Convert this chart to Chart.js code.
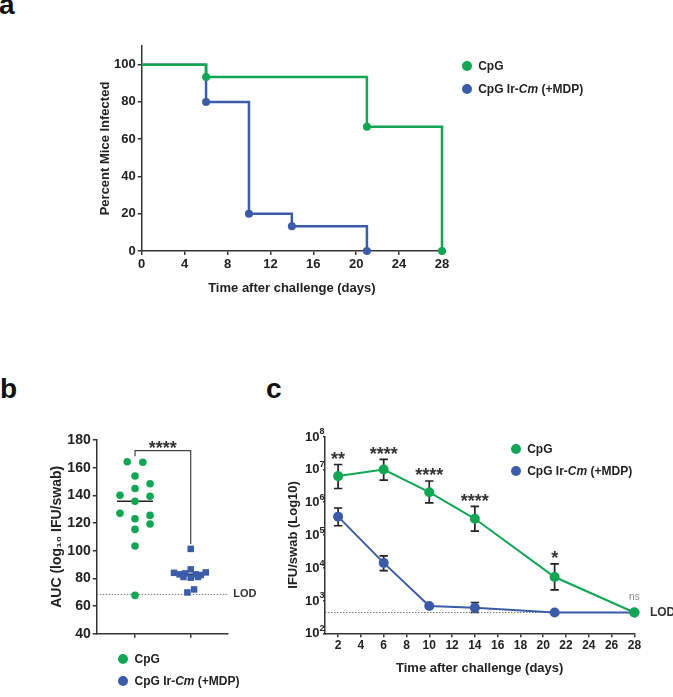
<!DOCTYPE html>
<html><head><meta charset="utf-8">
<script src="https://cdn.jsdelivr.net/npm/chart.js@4/dist/chart.umd.min.js"></script>
<style>
body{margin:0;background:#fff;}
#wrap{position:relative;width:673px;height:697px;overflow:hidden;font-family:"Liberation Sans",Arial,Helvetica,sans-serif;font-weight:bold;color:#222;background:#fff}
canvas{position:absolute}
.plab{position:absolute;font-size:28px;line-height:28px;font-weight:bold;color:#111}
.mk{position:absolute;width:10px;height:10px;border-radius:50%}
.lt{position:absolute;font-size:12px;line-height:14px;white-space:nowrap;color:#222;font-weight:bold}
</style></head>
<body><div id="wrap">
<div class="plab" style="left:-1px;top:-9px">a</div>
<div class="plab" style="left:0px;top:375px">b</div>
<div class="plab" style="left:266px;top:375px">c</div>
<canvas id="chartA" width="673" height="320" style="left:0;top:0"></canvas>
<canvas id="chartB" width="260" height="357" style="left:0;top:340px"></canvas>
<canvas id="chartC" width="423" height="357" style="left:250px;top:340px"></canvas>
</div>
<script>
// ---------- DATA ----------
const seriesNames = ['CpG', 'CpG Ir-<i>Cm</i> (+MDP)'];

// Panel a: Kaplan-Meier (percent mice infected)
const cpgSurvDays = [0, 6, 21, 28];
const cpgSurvPct  = [100, 93.3, 66.7, 0];
const mdpSurvDays = [0, 6, 10, 14, 21];
const mdpSurvPct  = [100, 80, 20, 13.3, 0];
const survXTicks  = [0, 4, 8, 12, 16, 20, 24, 28];
const survYTicks  = [0, 20, 40, 60, 80, 100];

// Panel b: AUC per mouse (with horizontal jitter, in category units)
const aucCpg       = [164.3, 163.9, 154.0, 148.4, 145.0, 140.0, 139.3, 135.7, 127.0, 125.5, 123.1, 119.3, 115.4, 103.4, 67.7];
const aucCpgJitter = [-0.14, 0.14, 0, 0.27, 0, -0.27, 0.27, 0, -0.27, 0.27, 0, 0.27, 0, 0, 0];
const aucMdp       = [101.3, 86.5, 84.0, 82.9, 83.6, 82.9, 82.4, 84.3, 81.0, 80.5, 81.0, 72.0, 69.8];
const aucMdpJitter = [0, 0, -0.30, -0.20, -0.10, 0.09, 0.18, 0.27, -0.13, 0, 0.13, 0.06, -0.06];
const aucYTicks    = [40, 60, 80, 100, 120, 140, 160, 180];
const aucLOD       = 68.4;
const aucSignif    = '****';

// Panel c: IFU/swab over time (mean with error bars)
const ifuDays   = [2, 6, 10, 14, 21, 28];
const cpgIFU    = [6.2e6, 9.8e6, 2.0e6, 3.1e5, 5.2e3, 430];
const cpgUpper  = [1.4e7, 2.0e7, 4.4e6, 7.4e5, 1.3e4, null];
const cpgLower  = [2.6e6, 4.7e6, 9.5e5, 1.3e5, 2.1e3, null];
const mdpIFU    = [3.6e5, 1.4e4, 680, 600, 430, 430];
const mdpUpper  = [6.6e5, 2.3e4, null, 870, null, null];
const mdpLower  = [1.9e5, 8.1e3, null, 430, null, null];
const ifuSignif = ['**', '****', '****', '****', '*', 'ns'];
const ifuLOD    = 430;
const dayTicks  = [2, 4, 6, 8, 10, 12, 14, 16, 18, 20, 22, 24, 26, 28];
const ifuYTicks = [1e2, 1e3, 1e4, 1e5, 1e6, 1e7, 1e8];

// ---------- STYLE ----------
const GREEN = '#10a653', BLUE = '#3b5ca9', AXIS = '#333', TXT = '#222';
const FONT = '"Liberation Sans", Arial, Helvetica, sans-serif';
Chart.defaults.font.family = FONT;
Chart.defaults.color = TXT;
Chart.defaults.animation = false;

const fixY = w => s => { s.width = w; s.paddingTop = 0; s.paddingBottom = 0; };
const fixX = h => s => { s.height = h; s.paddingLeft = 0; s.paddingRight = 0; };
const setTicks = arr => s => { s.ticks = arr.map(v => ({value: v})); };
const axisGrid = {drawOnChartArea: false, tickLength: 4, color: AXIS, lineWidth: 1.5};
const axisBorder = {color: AXIS, width: 1.5};
const bold = size => ({size, weight: 'bold'});
const noPlug = {legend: {display: false}, tooltip: {enabled: false}};

// ---------- LEGENDS ----------
function legend(x, y0, dy) {
  const wrap = document.getElementById('wrap');
  [GREEN, BLUE].forEach((c, i) => {
    const cy = y0 + i * dy;
    const m = document.createElement('div');
    m.className = 'mk'; m.style.background = c;
    m.style.left = (x - 5) + 'px'; m.style.top = (cy - 5) + 'px';
    wrap.appendChild(m);
    const t = document.createElement('div');
    t.className = 'lt'; t.innerHTML = seriesNames[i];
    t.style.left = (x + 11.5) + 'px'; t.style.top = (cy - 6.9) + 'px';
    wrap.appendChild(t);
  });
}
legend(466.7, 66, 22.7);
legend(123, 659, 21.7);
legend(515.7, 449, 22);

// ---------- PANEL A ----------
const pts = (xs, ys) => xs.map((x, i) => ({x, y: ys[i]}));
new Chart(document.getElementById('chartA'), {
  type: 'line',
  data: {datasets: [
    {data: pts(cpgSurvDays, cpgSurvPct), borderColor: GREEN, backgroundColor: GREEN, stepped: true,
     borderWidth: 2.5, pointRadius: c => c.dataIndex === 0 ? 0 : 4, pointBorderWidth: 0, clip: false},
    {data: pts(mdpSurvDays, mdpSurvPct), borderColor: BLUE, backgroundColor: BLUE, stepped: true,
     borderWidth: 2.5, pointRadius: c => c.dataIndex === 0 ? 0 : 4, pointBorderWidth: 0, clip: false}
  ]},
  options: {
    responsive: false, animation: false,
    layout: {padding: {left: 93.5, top: 46, right: 231, bottom: 19.7}},
    plugins: noPlug,
    scales: {
      x: {type: 'linear', min: 0, max: 28, afterBuildTicks: setTicks(survXTicks),
          ticks: {font: bold(13), padding: 2, color: TXT, maxRotation: 0, autoSkip: false},
          grid: axisGrid, border: axisBorder,
          title: {display: true, text: 'Time after challenge (days)', font: bold(13), color: TXT},
          afterFit: fixX(49.3)},
      y: {type: 'linear', min: 0, max: 110, afterBuildTicks: setTicks(survYTicks),
          ticks: {font: bold(13), padding: 2, color: TXT},
          grid: axisGrid, border: axisBorder,
          title: {display: true, text: 'Percent Mice Infected', font: bold(13), color: TXT},
          afterFit: fixY(48.2)}
    }
  }
});

// ---------- PANEL B ----------
const median = a => { const s = [...a].sort((p, q) => p - q); const n = s.length;
  return n % 2 ? s[(n - 1) / 2] : (s[n / 2 - 1] + s[n / 2]) / 2; };
const bAnnot = {
  id: 'bAnnot',
  afterDatasetsDraw(chart) {
    const {ctx, scales: {x, y}, chartArea} = chart;
    const gTop = y.getPixelForValue(Math.max(...aucCpg));
    const bTop = y.getPixelForValue(Math.max(...aucMdp));
    const top = gTop - 11;
    ctx.save();
    ctx.strokeStyle = '#444'; ctx.lineWidth = 1.2;
    ctx.beginPath();
    ctx.moveTo(x.getPixelForValue(1), gTop - 5.5);
    ctx.lineTo(x.getPixelForValue(1), top);
    ctx.lineTo(x.getPixelForValue(2), top);
    ctx.lineTo(x.getPixelForValue(2), bTop - 5);
    ctx.stroke();
    ctx.fillStyle = '#333'; ctx.font = 'bold 18px ' + FONT;
    ctx.textAlign = 'center'; ctx.textBaseline = 'alphabetic';
    ctx.fillText(aucSignif, x.getPixelForValue(1.5), top + 3);
    ctx.font = 'bold 11px ' + FONT; ctx.textAlign = 'left'; ctx.textBaseline = 'middle';
    ctx.fillText('LOD', chartArea.right + 5.5, y.getPixelForValue(aucLOD));
    ctx.restore();
  }
};
const bXmin = 0.312, bXmax = 2.664;
new Chart(document.getElementById('chartB'), {
  type: 'scatter',
  data: {datasets: [
    {data: aucCpg.map((v, i) => ({x: 1 + aucCpgJitter[i], y: v})), backgroundColor: GREEN, borderWidth: 0,
     pointRadius: 3.8, pointStyle: 'circle', clip: false},
    {data: aucMdp.map((v, i) => ({x: 2 + aucMdpJitter[i], y: v})), backgroundColor: BLUE, borderWidth: 0,
     pointRadius: 4.6, pointStyle: 'rect', clip: false},
    {data: [{x: 0.677, y: median(aucCpg)}, {x: 1.323, y: median(aucCpg)}], showLine: true, borderColor: '#222',
     borderWidth: 1.5, pointRadius: 0},
    {data: [{x: 1.677, y: median(aucMdp)}, {x: 2.323, y: median(aucMdp)}], showLine: true, borderColor: '#222',
     borderWidth: 1.5, pointRadius: 0},
    {data: [{x: bXmin, y: aucLOD}, {x: bXmax, y: aucLOD}], showLine: true, borderColor: '#777',
     borderWidth: 1, borderDash: [1.5, 1.5], pointRadius: 0}
  ]},
  options: {
    responsive: false, animation: false,
    layout: {padding: {left: 44.3, top: 100, right: 32.3, bottom: 53.3}},
    plugins: noPlug,
    scales: {
      x: {type: 'linear', min: bXmin, max: bXmax, afterBuildTicks: setTicks([1, 2]),
          ticks: {callback: () => '', padding: 0},
          grid: axisGrid, border: axisBorder, afterFit: fixX(10)},
      y: {type: 'linear', min: 40, max: 180, afterBuildTicks: setTicks(aucYTicks),
          ticks: {font: bold(14), padding: 2, color: TXT},
          grid: axisGrid, border: axisBorder,
          title: {display: true, text: 'AUC (log\u2081\u2080 IFU/swab)', font: bold(14), color: TXT},
          afterFit: fixY(52.4)}
    }
  },
  plugins: [bAnnot]
});

// ---------- PANEL C ----------
const cAnnot = {
  id: 'cAnnot',
  beforeDatasetsDraw(chart) {
    const {ctx, scales: {x, y}} = chart;
    ctx.save(); ctx.strokeStyle = '#222'; ctx.lineWidth = 1.7;
    const bars = (up, lo) => ifuDays.forEach((d, i) => {
      if (up[i] == null) return;
      const px = x.getPixelForValue(d), yu = y.getPixelForValue(up[i]), yl = y.getPixelForValue(lo[i]);
      ctx.beginPath();
      ctx.moveTo(px, yu); ctx.lineTo(px, yl);
      ctx.moveTo(px - 4.2, yu); ctx.lineTo(px + 4.2, yu);
      ctx.moveTo(px - 4.2, yl); ctx.lineTo(px + 4.2, yl);
      ctx.stroke();
    });
    bars(cpgUpper, cpgLower); bars(mdpUpper, mdpLower);
    ctx.restore();
  },
  afterDatasetsDraw(chart) {
    const {ctx, scales: {x, y}, chartArea} = chart;
    ctx.save(); ctx.textAlign = 'center'; ctx.textBaseline = 'alphabetic';
    ifuDays.forEach((d, i) => {
      const px = x.getPixelForValue(d);
      if (ifuSignif[i] === 'ns') {
        ctx.font = '10px ' + FONT; ctx.fillStyle = '#888';
        ctx.fillText('ns', px, y.getPixelForValue(cpgIFU[i]) - 12.5);
      } else {
        ctx.font = 'bold 18px ' + FONT; ctx.fillStyle = '#333';
        ctx.fillText(ifuSignif[i], px, y.getPixelForValue(cpgUpper[i]) + 0.5);
      }
    });
    ctx.font = 'bold 12px ' + FONT; ctx.fillStyle = '#333'; ctx.textAlign = 'left'; ctx.textBaseline = 'middle';
    ctx.fillText('LOD', chartArea.right + 15.5, y.getPixelForValue(ifuLOD));
    // log tick labels: "10" with superscript exponent
    ctx.fillStyle = TXT; ctx.textBaseline = 'middle';
    y.ticks.forEach(t => {
      const py = y.getPixelForValue(t.value);
      const exp = String(Math.round(Math.log10(t.value)));
      ctx.font = 'bold 9px ' + FONT; ctx.textAlign = 'right';
      const ex = chartArea.left - 0.5;
      ctx.fillText(exp, ex, py - 4.5);
      const ew = ctx.measureText(exp).width;
      ctx.font = 'bold 13px ' + FONT;
      ctx.fillText('10', ex - ew, py + 0.5);
    });
    ctx.restore();
  }
};
const cXmin = 0.85, cXmax = 28;
new Chart(document.getElementById('chartC'), {
  type: 'line',
  data: {datasets: [
    {data: pts(ifuDays, cpgIFU), borderColor: GREEN, backgroundColor: GREEN, borderWidth: 2,
     pointRadius: 5, pointBorderWidth: 0, clip: false},
    {data: pts(ifuDays, mdpIFU), borderColor: BLUE, backgroundColor: BLUE, borderWidth: 2,
     pointRadius: 5, pointBorderWidth: 0, clip: false},
    {data: [{x: cXmin, y: ifuLOD}, {x: cXmax, y: ifuLOD}], borderColor: '#777', borderWidth: 1,
     borderDash: [1.5, 1.5], pointRadius: 0}
  ]},
  options: {
    responsive: false, animation: false,
    layout: {padding: {left: 31.2, top: 96.5, right: 38.6, bottom: 17.2}},
    plugins: noPlug,
    scales: {
      x: {type: 'linear', min: cXmin, max: cXmax, afterBuildTicks: setTicks(dayTicks),
          ticks: {font: bold(12), padding: 1.5, color: TXT, maxRotation: 0, autoSkip: false},
          grid: axisGrid, border: axisBorder,
          title: {display: true, text: 'Time after challenge (days)', font: bold(13), color: TXT},
          afterFit: fixX(46.5)},
      y: {type: 'logarithmic', min: 1e2, max: 1e8, afterBuildTicks: setTicks(ifuYTicks),
          ticks: {font: bold(13), padding: 1, color: TXT, callback: () => ''},
          grid: {drawOnChartArea: false, tickLength: 2, color: AXIS, lineWidth: 1.5}, border: axisBorder,
          title: {display: true, text: 'IFU/swab (Log10)', font: bold(13), color: TXT},
          afterFit: fixY(43.8)}
    }
  },
  plugins: [cAnnot]
});
</script>
</body></html>
